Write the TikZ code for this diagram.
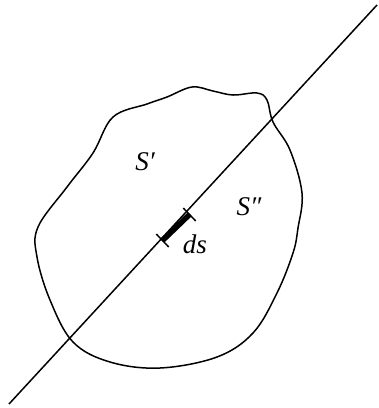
\documentclass[tikz,border=0pt]{standalone}
\usepackage{fontspec}
\setmainfont{Liberation Serif}
\usetikzlibrary{calc}
\begin{document}
\begin{tikzpicture}[x=1pt,y=-1pt,
  thinline/.style={line width=1.5pt},
  lbl/.style={font=\fontsize{27}{27}\selectfont\itshape, inner sep=0pt}]
\useasboundingbox (0,0) rectangle (379,408);
% blob
\draw[thinline] plot[smooth cycle, tension=0.6] coordinates {
 (192,87) (213,91) (233,95) (257,93) (267,100) (273,122) (290,150) (302,193)
 (298,228) (293,253) (277,293) (253,333) (217,357) (160,368) (110,362) (73,342)
 (50,300) (37,257) (38,227) (67,187) (93,153) (113,117) (147,104) (167,97)};
% line
\coordinate (a) at (9,404);
\coordinate (b) at (377,5);
\draw[thinline] (a) -- (b);
% ds element
\coordinate (p) at (162.5,240.5);
\coordinate (q) at (189.5,214.5);
\draw[line width=5.5pt] (p) -- (q);
\draw[thinline] ($(p)!9pt!90:(q)$) -- ($(p)!9pt!-90:(q)$);
\draw[thinline] ($(q)!9pt!90:(p)$) -- ($(q)!9pt!-90:(p)$);
\node[lbl] (s1) at (145,162) {S′};
\node[lbl] (s2) at (249,207) {S″};
\node[lbl] (ds) at (195,244) {ds};
\end{tikzpicture}
\end{document}
